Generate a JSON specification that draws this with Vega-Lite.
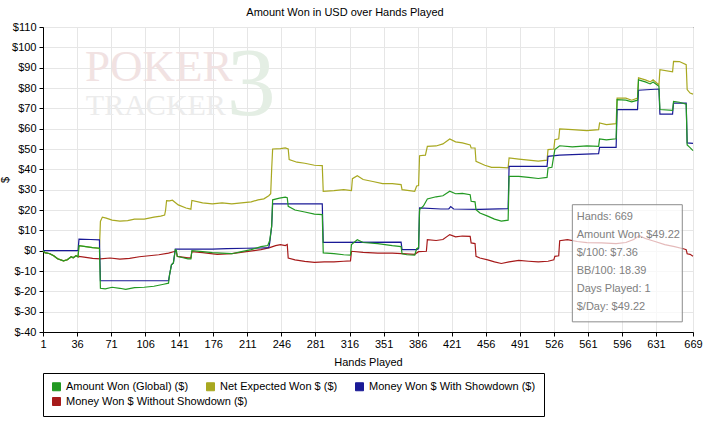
{
  "$schema": "https://vega.github.io/schema/vega-lite/v6.json",
  "width": 650,
  "height": 305,
  "autosize": {"type": "none"},
  "padding": {"left": 43, "top": 27, "right": 13, "bottom": 92},
  "background": "white",
  "title": {"text": "Amount Won in USD over Hands Played", "fontSize": 11, "fontWeight": "normal", "font": "Liberation Sans", "color": "black", "offset": 3, "dx": -23},
  "datasets": {
    "green": [
      {"hand": 1, "value": 0}, {"hand": 3, "value": -1}, {"hand": 8, "value": -1.5}, {"hand": 12, "value": -2.5}, {"hand": 16, "value": -4}, {"hand": 22, "value": -5}, {"hand": 26, "value": -4.5}, {"hand": 30, "value": -3}, {"hand": 32, "value": -3.5}, {"hand": 35, "value": -2.5}, {"hand": 37, "value": -3},
      {"hand": 38, "value": 2.5}, {"hand": 45, "value": 2}, {"hand": 52, "value": 1.5}, {"hand": 59, "value": 1.2},
      {"hand": 60, "value": -18.5}, {"hand": 65, "value": -18.8}, {"hand": 72, "value": -18}, {"hand": 80, "value": -18.5}, {"hand": 86, "value": -19}, {"hand": 95, "value": -18.2}, {"hand": 105, "value": -18}, {"hand": 115, "value": -17.5}, {"hand": 125, "value": -16.5}, {"hand": 130, "value": -16},
      {"hand": 131, "value": -12}, {"hand": 133, "value": -7}, {"hand": 135, "value": -6}, {"hand": 137, "value": 0.5}, {"hand": 138, "value": 0.3},
      {"hand": 139, "value": -2.8}, {"hand": 145, "value": -3.5}, {"hand": 150, "value": -4}, {"hand": 153, "value": -4},
      {"hand": 154, "value": 0}, {"hand": 165, "value": -0.5}, {"hand": 175, "value": -1}, {"hand": 185, "value": -1.2}, {"hand": 195, "value": -1.5}, {"hand": 205, "value": -0.5}, {"hand": 215, "value": 0.5}, {"hand": 225, "value": 2}, {"hand": 232, "value": 2.5},
      {"hand": 234, "value": 5}, {"hand": 236, "value": 12}, {"hand": 237, "value": 25}, {"hand": 244, "value": 25.8}, {"hand": 250, "value": 26.3}, {"hand": 252, "value": 26},
      {"hand": 253, "value": 21.8}, {"hand": 260, "value": 20}, {"hand": 270, "value": 19}, {"hand": 280, "value": 18}, {"hand": 288, "value": 17.7},
      {"hand": 289, "value": -1.1}, {"hand": 300, "value": -1.5}, {"hand": 310, "value": -2}, {"hand": 317, "value": -2.2},
      {"hand": 318, "value": 3}, {"hand": 324, "value": 5.4}, {"hand": 330, "value": 4}, {"hand": 345, "value": 3.5}, {"hand": 360, "value": 2.5}, {"hand": 369, "value": 2},
      {"hand": 370, "value": -1.5}, {"hand": 375, "value": -2}, {"hand": 383, "value": -2.2}, {"hand": 385, "value": 1}, {"hand": 387, "value": 1.5},
      {"hand": 388, "value": 20.2}, {"hand": 392, "value": 22}, {"hand": 396, "value": 25.4}, {"hand": 405, "value": 26.5}, {"hand": 412, "value": 27}, {"hand": 419, "value": 29.2}, {"hand": 425, "value": 28}, {"hand": 432, "value": 28.2}, {"hand": 440, "value": 27.5},
      {"hand": 441, "value": 24.3}, {"hand": 445, "value": 24}, {"hand": 446, "value": 20.2}, {"hand": 450, "value": 18.5}, {"hand": 458, "value": 17}, {"hand": 465, "value": 15.5}, {"hand": 472, "value": 14.5}, {"hand": 479, "value": 15},
      {"hand": 480, "value": 36.5}, {"hand": 490, "value": 36.5}, {"hand": 500, "value": 36}, {"hand": 510, "value": 35.5}, {"hand": 519, "value": 36},
      {"hand": 520, "value": 40.7}, {"hand": 524, "value": 41}, {"hand": 527, "value": 49.7}, {"hand": 532, "value": 51.6}, {"hand": 545, "value": 51}, {"hand": 560, "value": 51.5}, {"hand": 572, "value": 51.3},
      {"hand": 573, "value": 55}, {"hand": 580, "value": 54.5}, {"hand": 590, "value": 55},
      {"hand": 591, "value": 74.3}, {"hand": 600, "value": 74}, {"hand": 606, "value": 73.2}, {"hand": 612, "value": 74},
      {"hand": 613, "value": 84}, {"hand": 620, "value": 83}, {"hand": 625, "value": 82}, {"hand": 628, "value": 83}, {"hand": 634, "value": 80.8},
      {"hand": 635, "value": 69.4}, {"hand": 648, "value": 69}, {"hand": 649, "value": 73.4}, {"hand": 655, "value": 73}, {"hand": 662, "value": 72},
      {"hand": 663, "value": 52}, {"hand": 666, "value": 50.7}, {"hand": 669, "value": 49.22}
    ],
    "olive": [
      {"hand": 1, "value": 0}, {"hand": 3, "value": -1}, {"hand": 8, "value": -1.5}, {"hand": 12, "value": -2.5}, {"hand": 16, "value": -4}, {"hand": 22, "value": -5}, {"hand": 26, "value": -4.5}, {"hand": 30, "value": -3}, {"hand": 32, "value": -3.5}, {"hand": 35, "value": -2.5}, {"hand": 37, "value": -3},
      {"hand": 38, "value": 2.5}, {"hand": 45, "value": 2}, {"hand": 52, "value": 1.5}, {"hand": 59, "value": 1.2},
      {"hand": 60, "value": 14.4}, {"hand": 62, "value": 16.5}, {"hand": 66, "value": 16}, {"hand": 72, "value": 15}, {"hand": 80, "value": 14.5}, {"hand": 88, "value": 14.8}, {"hand": 95, "value": 15.5}, {"hand": 105, "value": 15.5}, {"hand": 115, "value": 16.5}, {"hand": 122, "value": 17}, {"hand": 126, "value": 17.5},
      {"hand": 127, "value": 20}, {"hand": 128, "value": 24.6}, {"hand": 131, "value": 24.5}, {"hand": 134, "value": 24.8}, {"hand": 140, "value": 22.5}, {"hand": 148, "value": 21}, {"hand": 153, "value": 20.4},
      {"hand": 154, "value": 24.7}, {"hand": 165, "value": 23.5}, {"hand": 175, "value": 23}, {"hand": 185, "value": 23.5}, {"hand": 195, "value": 23}, {"hand": 205, "value": 23.5}, {"hand": 215, "value": 24}, {"hand": 222, "value": 25}, {"hand": 228, "value": 25.5}, {"hand": 233, "value": 27}, {"hand": 235, "value": 28},
      {"hand": 236, "value": 40}, {"hand": 237, "value": 50}, {"hand": 245, "value": 50.2}, {"hand": 250, "value": 50.5}, {"hand": 253, "value": 50},
      {"hand": 254, "value": 44.8}, {"hand": 262, "value": 43.5}, {"hand": 270, "value": 43}, {"hand": 280, "value": 42}, {"hand": 288, "value": 41.8},
      {"hand": 289, "value": 29.2}, {"hand": 300, "value": 29.5}, {"hand": 310, "value": 30}, {"hand": 318, "value": 29.5},
      {"hand": 319, "value": 35.4}, {"hand": 324, "value": 36.9}, {"hand": 330, "value": 35}, {"hand": 340, "value": 34}, {"hand": 350, "value": 33}, {"hand": 360, "value": 33}, {"hand": 369, "value": 32.5},
      {"hand": 370, "value": 30}, {"hand": 383, "value": 29.2}, {"hand": 385, "value": 31.8}, {"hand": 387, "value": 32},
      {"hand": 388, "value": 46.7}, {"hand": 394, "value": 47}, {"hand": 396, "value": 51.3}, {"hand": 405, "value": 51.5}, {"hand": 412, "value": 52.5}, {"hand": 419, "value": 54.9}, {"hand": 425, "value": 53.5}, {"hand": 432, "value": 53}, {"hand": 440, "value": 52},
      {"hand": 441, "value": 50.5}, {"hand": 445, "value": 50.5}, {"hand": 446, "value": 43.9}, {"hand": 455, "value": 42}, {"hand": 462, "value": 41}, {"hand": 470, "value": 41}, {"hand": 479, "value": 40.7},
      {"hand": 480, "value": 45.6}, {"hand": 490, "value": 45}, {"hand": 500, "value": 44.5}, {"hand": 510, "value": 44}, {"hand": 519, "value": 44.5},
      {"hand": 520, "value": 49.7}, {"hand": 526, "value": 50}, {"hand": 527, "value": 54.6}, {"hand": 531, "value": 55},
      {"hand": 532, "value": 59.9}, {"hand": 545, "value": 59.5}, {"hand": 560, "value": 59}, {"hand": 572, "value": 59.5},
      {"hand": 573, "value": 62.8}, {"hand": 580, "value": 62}, {"hand": 590, "value": 62.5},
      {"hand": 591, "value": 75}, {"hand": 600, "value": 75}, {"hand": 606, "value": 74}, {"hand": 612, "value": 75},
      {"hand": 613, "value": 85}, {"hand": 620, "value": 84}, {"hand": 625, "value": 83}, {"hand": 628, "value": 84}, {"hand": 634, "value": 81.5},
      {"hand": 635, "value": 89}, {"hand": 648, "value": 88}, {"hand": 649, "value": 93.1}, {"hand": 655, "value": 93}, {"hand": 662, "value": 91.5},
      {"hand": 663, "value": 79.2}, {"hand": 666, "value": 77.5}, {"hand": 669, "value": 77}
    ],
    "blue": [
      {"hand": 1, "value": 0}, {"hand": 37, "value": 0},
      {"hand": 38, "value": 5.7}, {"hand": 50, "value": 5.5}, {"hand": 59, "value": 5.3},
      {"hand": 60, "value": -14.8}, {"hand": 130, "value": -14.8},
      {"hand": 131, "value": -12}, {"hand": 133, "value": -7}, {"hand": 135, "value": -6}, {"hand": 137, "value": 0.8}, {"hand": 175, "value": 0.8}, {"hand": 190, "value": 1}, {"hand": 210, "value": 1.2}, {"hand": 225, "value": 1.3}, {"hand": 233, "value": 1.5},
      {"hand": 234, "value": 4}, {"hand": 236, "value": 12}, {"hand": 237, "value": 23}, {"hand": 288, "value": 23},
      {"hand": 289, "value": 4.1}, {"hand": 369, "value": 4.2},
      {"hand": 370, "value": 0.5}, {"hand": 385, "value": 0.5}, {"hand": 387, "value": 1},
      {"hand": 388, "value": 21}, {"hand": 410, "value": 20.5}, {"hand": 418, "value": 20.5}, {"hand": 420, "value": 21.7}, {"hand": 423, "value": 20.5}, {"hand": 450, "value": 20.3}, {"hand": 479, "value": 20.7},
      {"hand": 480, "value": 41.5}, {"hand": 519, "value": 41.5},
      {"hand": 520, "value": 46.4}, {"hand": 532, "value": 47}, {"hand": 545, "value": 47.2}, {"hand": 572, "value": 47.7},
      {"hand": 573, "value": 50.8}, {"hand": 590, "value": 50.8},
      {"hand": 591, "value": 69.4}, {"hand": 612, "value": 69.4},
      {"hand": 613, "value": 78.9}, {"hand": 634, "value": 79.5},
      {"hand": 635, "value": 67.2}, {"hand": 648, "value": 67.2},
      {"hand": 649, "value": 72.6}, {"hand": 662, "value": 72.6},
      {"hand": 663, "value": 53}, {"hand": 669, "value": 52.8}
    ],
    "red": [
      {"hand": 1, "value": 0}, {"hand": 3, "value": -1}, {"hand": 8, "value": -1.5}, {"hand": 12, "value": -2.5}, {"hand": 16, "value": -4}, {"hand": 22, "value": -5}, {"hand": 26, "value": -4.5}, {"hand": 30, "value": -3}, {"hand": 32, "value": -3.5}, {"hand": 35, "value": -2.5}, {"hand": 37, "value": -3},
      {"hand": 38, "value": -2.8}, {"hand": 45, "value": -3.3}, {"hand": 52, "value": -3.8}, {"hand": 60, "value": -4}, {"hand": 70, "value": -3.6}, {"hand": 80, "value": -4.2}, {"hand": 90, "value": -3.8}, {"hand": 100, "value": -3}, {"hand": 110, "value": -2.5}, {"hand": 120, "value": -2}, {"hand": 130, "value": -1.2}, {"hand": 137, "value": -0.3}, {"hand": 138, "value": -0.5},
      {"hand": 139, "value": -2.8}, {"hand": 150, "value": -3.5}, {"hand": 153, "value": -3.5},
      {"hand": 154, "value": -0.5}, {"hand": 165, "value": -1}, {"hand": 180, "value": -1.8}, {"hand": 195, "value": -1.5}, {"hand": 210, "value": -0.5}, {"hand": 225, "value": 0.5}, {"hand": 234, "value": 1.5}, {"hand": 240, "value": 2.5}, {"hand": 245, "value": 3}, {"hand": 250, "value": 2.5}, {"hand": 252, "value": 3},
      {"hand": 253, "value": -3.6}, {"hand": 260, "value": -4.5}, {"hand": 270, "value": -5.3}, {"hand": 280, "value": -5.8}, {"hand": 290, "value": -5.5}, {"hand": 300, "value": -5.5}, {"hand": 310, "value": -5.2}, {"hand": 317, "value": -5},
      {"hand": 318, "value": -0.3}, {"hand": 330, "value": -0.8}, {"hand": 345, "value": -1.2}, {"hand": 360, "value": -1.2}, {"hand": 370, "value": -1.5}, {"hand": 383, "value": -1.8}, {"hand": 387, "value": -0.5}, {"hand": 395, "value": -0.3},
      {"hand": 396, "value": 5.4}, {"hand": 405, "value": 5}, {"hand": 412, "value": 5.5}, {"hand": 419, "value": 7.9}, {"hand": 425, "value": 6.8}, {"hand": 432, "value": 7.2}, {"hand": 440, "value": 7},
      {"hand": 441, "value": 3.8}, {"hand": 445, "value": 3.5}, {"hand": 446, "value": -2.8}, {"hand": 450, "value": -3.6}, {"hand": 458, "value": -4.5}, {"hand": 465, "value": -5.5}, {"hand": 472, "value": -6.3}, {"hand": 480, "value": -5.5}, {"hand": 490, "value": -4.8}, {"hand": 500, "value": -5.2}, {"hand": 510, "value": -5.5}, {"hand": 520, "value": -5.2}, {"hand": 526, "value": -4.5}, {"hand": 527, "value": -2.8}, {"hand": 531, "value": -2.5},
      {"hand": 532, "value": 4.9}, {"hand": 540, "value": 5.4}, {"hand": 550, "value": 4.5}, {"hand": 560, "value": 4}, {"hand": 575, "value": 3.8}, {"hand": 590, "value": 3.5}, {"hand": 600, "value": 4}, {"hand": 608, "value": 5.5}, {"hand": 614, "value": 7.4}, {"hand": 620, "value": 6}, {"hand": 630, "value": 4.5}, {"hand": 640, "value": 3}, {"hand": 650, "value": 2}, {"hand": 660, "value": 0.8}, {"hand": 662, "value": 0.5},
      {"hand": 663, "value": -1.5}, {"hand": 666, "value": -1.8}, {"hand": 669, "value": -2.8}
    ],
    "infobox": [{"hand": 545, "hand2": 658, "value": 22.6, "value2": -35}],
    "infotext": [
      {"label": "Hands: 669", "hand": 549.5, "value": 16.6},
      {"label": "Amount Won: $49.22", "hand": 549.5, "value": 7.8},
      {"label": "$/100: $7.36", "hand": 549.5, "value": -1},
      {"label": "BB/100: 18.39", "hand": 549.5, "value": -9.8},
      {"label": "Days Played: 1", "hand": 549.5, "value": -18.7},
      {"label": "$/Day: $49.22", "hand": 549.5, "value": -27.5}
    ]
  },
  "encoding": {
    "x": {"field": "hand", "type": "quantitative",
      "scale": {"domain": [1, 669], "nice": false, "zero": false},
      "axis": {"title": "Hands Played", "values": [1, 36, 71, 106, 141, 176, 211, 246, 281, 316, 351, 386, 421, 456, 491, 526, 561, 596, 631, 669], "labelFlush": false, "labelOverlap": false, "labelBound": false, "labelPadding": 2, "titlePadding": 7}},
    "y": {"field": "value", "type": "quantitative",
      "scale": {"domain": [-40, 110], "nice": false, "zero": false},
      "axis": {"title": "$", "values": [-40, -30, -20, -10, 0, 10, 20, 30, 40, 50, 60, 70, 80, 90, 100, 110], "labelExpr": "'$' + datum.value", "labelPadding": 3, "titlePadding": 1, "labelOverlap": false}}
  },
  "layer": [
    {"data": {"values": [{"label": "POKER", "hand": 120, "value": 90.5}]},
     "mark": {"type": "text", "font": "Liberation Serif", "fontSize": 45, "color": "#f1e2e2", "align": "center", "baseline": "middle"},
     "encoding": {"text": {"field": "label"}}},
    {"data": {"values": [{"label": "TRACKER", "hand": 117, "value": 71}]},
     "mark": {"type": "text", "font": "Liberation Serif", "fontSize": 30, "color": "#ececec", "align": "center", "baseline": "middle"},
     "encoding": {"text": {"field": "label"}}},
    {"data": {"values": [{"label": "3", "hand": 215, "value": 81}]},
     "mark": {"type": "text", "font": "Liberation Serif", "fontSize": 98, "color": "#e4eee4", "align": "center", "baseline": "middle"},
     "encoding": {"text": {"field": "label"}}},
    {"mark": {"type": "rule", "color": "black", "strokeWidth": 1},
     "encoding": {"x": {"datum": 1}, "x2": {"datum": 669}, "y": {"datum": 0}}},
    {"data": {"name": "red"}, "mark": {"type": "line", "strokeWidth": 1.2},
     "encoding": {"stroke": {"datum": "Money Won $ Without Showdown ($)",
       "scale": {"domain": ["Money Won $ Without Showdown ($)"], "range": ["#a61a1a"]},
       "legend": {"title": null, "orient": "none", "legendX": 8, "legendY": 369, "padding": 0, "zindex": 2,
         "symbolType": "square", "symbolSize": 64, "labelFontSize": 11, "labelFont": "Liberation Sans", "labelColor": "black", "labelOffset": 4, "labelLimit": 400,
         "encode": {"symbols": {"update": {"fill": {"scale": "stroke", "field": "value"}, "stroke": {"value": "#202020"}, "strokeWidth": {"value": 1}, "opacity": {"value": 1}, "fillOpacity": {"value": 1}}}}}}}},
    {"data": {"name": "olive"}, "mark": {"type": "line", "strokeWidth": 1.2},
     "encoding": {"color": {"datum": "Net Expected Won $ ($)"}}},
    {"data": {"name": "blue"}, "mark": {"type": "line", "strokeWidth": 1.2},
     "encoding": {"color": {"datum": "Money Won $ With Showdown ($)"}}},
    {"data": {"name": "green"}, "mark": {"type": "line", "strokeWidth": 1.2},
     "encoding": {"color": {"datum": "Amount Won (Global) ($)",
       "scale": {"domain": ["Amount Won (Global) ($)", "Net Expected Won $ ($)", "Money Won $ With Showdown ($)"],
                 "range": ["#229922", "#a8a820", "#1a1a96"]},
       "legend": {"title": " ", "titleOrient": "bottom", "titleFontSize": 11, "titlePadding": 4, "orient": "none", "legendX": 0, "legendY": 346, "direction": "horizontal", "columns": 3, "zindex": 1,
         "symbolType": "square", "symbolSize": 64, "labelFontSize": 11, "labelFont": "Liberation Sans", "labelColor": "black", "labelOffset": 4, "labelLimit": 400,
         "columnPadding": 15, "padding": 8, "strokeColor": "black", "fillColor": "white",
         "encode": {"symbols": {"update": {"fill": {"scale": "color", "field": "value"}, "stroke": {"value": "#202020"}, "strokeWidth": {"value": 1}, "opacity": {"value": 1}, "fillOpacity": {"value": 1}}}}}}}},
    {"data": {"name": "infobox"}, "mark": {"type": "rect", "fill": "white", "fillOpacity": 0.7, "stroke": "#8c8c8c", "strokeWidth": 1},
     "encoding": {"x2": {"field": "hand2"}, "y2": {"field": "value2"}}},
    {"data": {"name": "infotext"}, "mark": {"type": "text", "align": "left", "baseline": "middle", "fontSize": 11, "font": "Liberation Sans", "color": "#808080"},
     "encoding": {"text": {"field": "label"}}}
  ],
  "config": {
    "font": "Liberation Sans",
    "view": {"stroke": "black", "strokeWidth": 1},
    "axis": {"labelFont": "Liberation Sans", "labelFontSize": 11, "labelColor": "black", "titleFont": "Liberation Sans", "titleFontSize": 11, "titleFontWeight": "normal", "titleColor": "black", "domainColor": "black", "tickColor": "black", "tickSize": 4, "gridColor": "#e6e6e6", "gridOpacity": 1}
  }
}
